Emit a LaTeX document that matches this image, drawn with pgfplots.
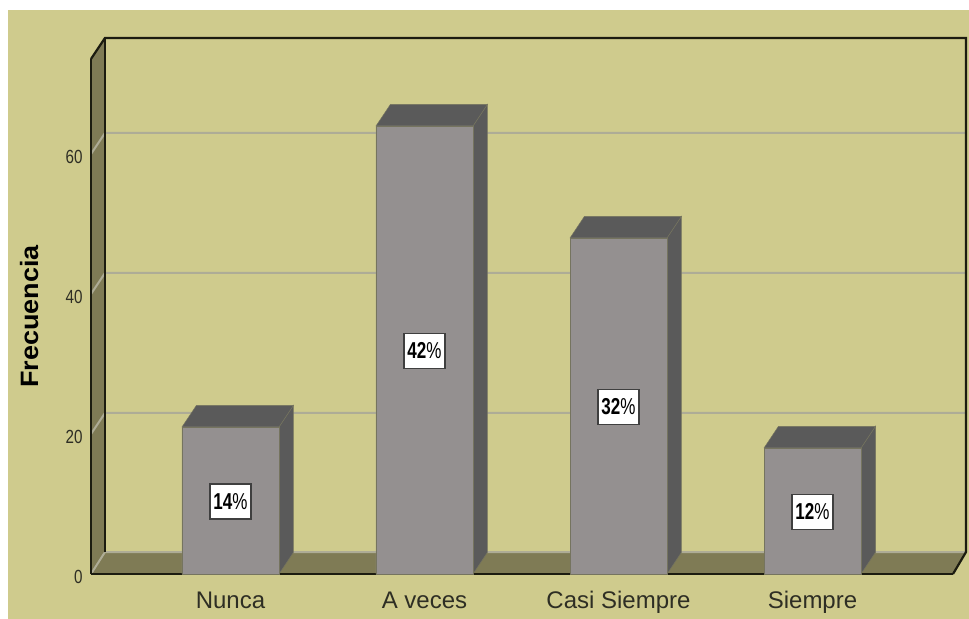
\documentclass[border=0pt]{standalone}
\usepackage{graphicx}
\usepackage{fontspec}
\setmainfont{Liberation Sans}
\usepackage{pgfplots}
\pgfplotsset{compat=1.18}
\definecolor{panel}{HTML}{CFCB8D}
\definecolor{wall}{HTML}{7F7B55}
\definecolor{barfront}{HTML}{949090}
\definecolor{bardark}{HTML}{5A5A5A}
\definecolor{baredge}{HTML}{75745F}
\definecolor{gridc}{HTML}{AEAC96}
\definecolor{frame}{HTML}{1C1C10}
\definecolor{labelc}{HTML}{2E2E24}
\newcommand{\pct}[1]{\scalebox{0.74}[1]{\textbf{#1}\%}}
\begin{document}
\begin{tikzpicture}
\begin{axis}[
  set layers,
  clip=false,
  x=194pt, y=7pt,
  xmin=-0.7191, xmax=3.7242,
  ymin=0, ymax=73.571,
  axis lines=left,
  axis line style={-, color=frame, line width=2.2pt},
  major tick length=0pt,
  xtick={0,1,2,3},
  xticklabels={Nunca,A veces,Casi Siempre,Siempre},
  ytick={0,20,40,60},
  /pgf/number format/assume math mode=true,
  xticklabel style={font=\fontsize{24}{28}\selectfont, text=labelc, yshift=-14pt},
  yticklabel style={font=\fontsize{19}{22}\selectfont, text=labelc, xscale=0.8, xshift=-7pt, yshift=-2.5pt},
  ylabel={\scalebox{1}[0.93]{\textbf{Frecuencia}}},
  ylabel shift=-1pt,
  ylabel style={font=\fontsize{27}{30}\selectfont, text=black, yshift=22pt},
]
% page and panel
\addplot[on layer=axis background, fill=white, draw=none] coordinates
  {(-1.1881,-6.4286) (3.8067,-6.4286) (3.8067,82) (-1.1881,82)} --cycle;
\addplot[on layer=axis background, fill=panel, draw=none] coordinates
  {(-1.1469,-6.4286) (3.8067,-6.4286) (3.8067,80.571) (-1.1469,80.571)} --cycle;
% left wall and floor
\addplot[on layer=axis background, fill=wall, draw=none] coordinates
  {(-0.7191,0) (-0.6469,3.14) (-0.6469,76.571) (-0.7191,73.571)} --cycle;
\addplot[on layer=axis background, fill=wall, draw=none] coordinates
  {(-0.7191,0) (3.7242,0) (3.7912,3.14) (-0.6469,3.14)} --cycle;
% grid lines, front edge to back wall
\addplot[on layer=axis background, gridc, line width=2pt] coordinates {(-0.7191,20) (-0.6469,23) (3.7912,23)};
\addplot[on layer=axis background, gridc, line width=2pt] coordinates {(-0.7191,40) (-0.6469,43) (3.7912,43)};
\addplot[on layer=axis background, gridc, line width=2pt] coordinates {(-0.7191,60) (-0.6469,63) (3.7912,63)};
\addplot[on layer=axis background, gridc, line width=2pt] coordinates {(-0.7191,0) (-0.6469,3.14) (3.7912,3.14)};
% back frame
\addplot[on layer=axis background, frame, line width=2.2pt] coordinates
  {(-0.7191,73.571) (-0.6469,76.571) (3.7912,76.571) (3.7912,3.14) (3.7242,0)};
\addplot[on layer=axis background, frame, line width=2.2pt] coordinates
  {(-0.6469,3.14) (-0.6469,76.571)};
% bars: side and top faces
\addplot[fill=bardark, draw=baredge, line width=0.5pt] coordinates {(0.25,0) (0.3247,3.1) (0.3247,24.1) (0.25,21)} --cycle;
\addplot[fill=bardark, draw=baredge, line width=0.5pt] coordinates {(-0.25,21) (-0.1753,24.1) (0.3247,24.1) (0.25,21)} --cycle;
\addplot[fill=bardark, draw=baredge, line width=0.5pt] coordinates {(1.25,0) (1.3247,3.1) (1.3247,67.1) (1.25,64)} --cycle;
\addplot[fill=bardark, draw=baredge, line width=0.5pt] coordinates {(0.75,64) (0.8247,67.1) (1.3247,67.1) (1.25,64)} --cycle;
\addplot[fill=bardark, draw=baredge, line width=0.5pt] coordinates {(2.25,0) (2.3247,3.1) (2.3247,51.1) (2.25,48)} --cycle;
\addplot[fill=bardark, draw=baredge, line width=0.5pt] coordinates {(1.75,48) (1.8247,51.1) (2.3247,51.1) (2.25,48)} --cycle;
\addplot[fill=bardark, draw=baredge, line width=0.5pt] coordinates {(3.25,0) (3.3247,3.1) (3.3247,21.1) (3.25,18)} --cycle;
\addplot[fill=bardark, draw=baredge, line width=0.5pt] coordinates {(2.75,18) (2.8247,21.1) (3.3247,21.1) (3.25,18)} --cycle;
% bars: front faces
\addplot[ybar, bar width=97pt, fill=barfront, draw=baredge, line width=0.8pt] coordinates {(0,21) (1,64) (2,48) (3,18)};
% percentage labels
\addplot[
  only marks, mark=none,
  point meta=explicit symbolic,
  nodes near coords,
  nodes near coords align={center},
  every node near coord/.append style={
    anchor=center, fill=white, draw=bardark!70!black, line width=1.5pt, inner sep=0pt,
    minimum width=41pt, minimum height=35pt, text=black, yshift=-1pt,
    font=\fontsize{23}{26}\selectfont},
] coordinates {
  (0,10.5) [\pct{14}]
  (1,32)   [\pct{42}]
  (2,24)   [\pct{32}]
  (3,9)    [\pct{12}]
};
\end{axis}
\end{tikzpicture}
\end{document}
